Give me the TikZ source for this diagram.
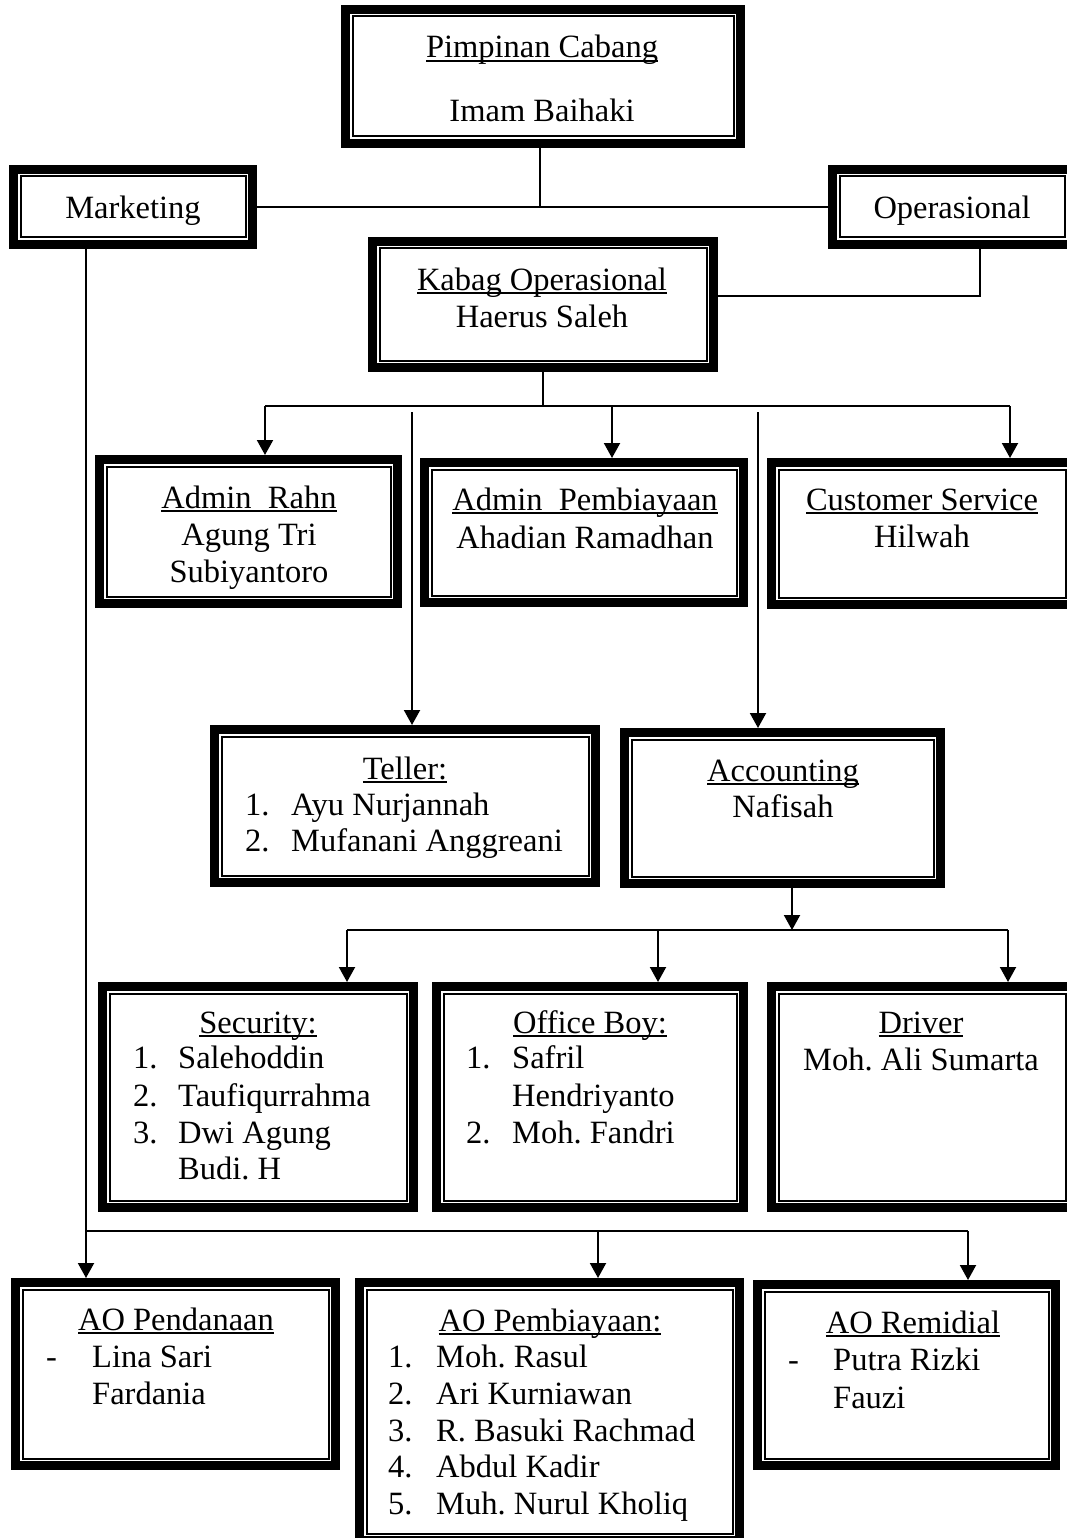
\documentclass[tikz,border=0pt]{standalone}
\usepackage{fontspec}
\setmainfont{Liberation Serif}
\usetikzlibrary{arrows.meta}
\newsavebox\ulbox
\newcommand\ulx[1]{\sbox\ulbox{#1}\rlap{\rule[-3.8pt]{\wd\ulbox}{1.6pt}}\usebox\ulbox}
\tikzset{
  obox/.style={rectangle, draw=black, line width=9pt, outer sep=4.5pt, inner sep=0pt, fill=white},
  inln/.style={line width=2pt},
  txt/.style={inner sep=0pt, font=\fontsize{32.5}{38}\selectfont\frenchspacing},
  ln/.style={line width=2pt},
  arr/.style={line width=2pt, -{Triangle[width=16pt,length=15pt]}},
}
\newcommand\obox[5]{%
  \node[obox, minimum width={#4-#2-9}, minimum height={#5-#3-9}] (#1) at ({(#2+#4)/2},{(#3+#5)/2}) {};
  \draw[inln] ([xshift=11.5pt,yshift=-11.5pt]#1.north west) rectangle ([xshift=-11.5pt,yshift=11.5pt]#1.south east);
}
\begin{document}
\begin{tikzpicture}[x=1pt,y=-1pt]
\useasboundingbox (0,0) rectangle (1067,1538);
\clip (0,0) rectangle (1067,1538);
\fill[white] (0,0) rectangle (1067,1538);

% ---------- boxes ----------
\obox{top}{341}{5}{745}{148}
\obox{mkt}{9}{165}{257}{249}
\obox{ops}{828}{165}{1076}{249}
\obox{kabag}{368}{237}{718}{372}
\obox{rahn}{95}{455}{402}{608}
\obox{pemb}{420}{458}{748}{607}
\obox{cs}{767}{458}{1077}{609}
\obox{teller}{210}{725}{600}{887}
\obox{acct}{620}{728}{945}{888}
\obox{sec}{98}{982}{418}{1212}
\obox{ob}{432}{982}{748}{1212}
\obox{drv}{767}{982}{1077}{1212}
\obox{aop}{11}{1278}{340}{1470}
\obox{aopb}{355}{1278}{744}{1545}
\obox{aor}{753}{1280}{1060}{1470}

% ---------- texts ----------
\node[txt, anchor=base] (t01) at (542,58) {\ulx{Pimpinan Cabang}};
\node[txt, anchor=base] (t02) at (542,122) {Imam Baihaki};
\node[txt, anchor=base] (t03) at (133,219) {Marketing};
\node[txt, anchor=base] (t04) at (952,219) {Operasional};
\node[txt, anchor=base] (t05) at (542,290) {\ulx{Kabag Operasional}};
\node[txt, anchor=base] (t06) at (542,327) {Haerus Saleh};

\node[txt, anchor=base] (t07) at (249,508) {\ulx{Admin\ \ Rahn}};
\node[txt, anchor=base] (t08) at (249,545) {Agung Tri};
\node[txt, anchor=base] (t09) at (249,582) {Subiyantoro};
\node[txt, anchor=base] (t10) at (585,510) {\ulx{Admin\ \ Pembiayaan}};
\node[txt, anchor=base] (t11) at (585,548) {Ahadian Ramadhan};
\node[txt, anchor=base] (t12) at (922,510) {\ulx{Customer Service}};
\node[txt, anchor=base] (t13) at (922,547) {Hilwah};

\node[txt, anchor=base] (t14) at (405,779) {\ulx{Teller:}};
\node[txt, anchor=base west] (t15) at (245,815) {1.};
\node[txt, anchor=base west] (t16) at (291,815) {Ayu Nurjannah};
\node[txt, anchor=base west] (t17) at (245,851) {2.};
\node[txt, anchor=base west] (t18) at (291,851) {Mufanani Anggreani};
\node[txt, anchor=base] (t19) at (783,781) {\ulx{Accounting}};
\node[txt, anchor=base] (t20) at (783,817) {Nafisah};

\node[txt, anchor=base] (t21) at (258,1033) {\ulx{Security:}};
\node[txt, anchor=base west] (t22) at (133,1068) {1.};
\node[txt, anchor=base west] (t23) at (178,1068) {Salehoddin};
\node[txt, anchor=base west] (t24) at (133,1106) {2.};
\node[txt, anchor=base west] (t25) at (178,1106) {Taufiqurrahma};
\node[txt, anchor=base west] (t26) at (133,1143) {3.};
\node[txt, anchor=base west] (t27) at (178,1143) {Dwi Agung};
\node[txt, anchor=base west] (t28) at (178,1179) {Budi. H};

\node[txt, anchor=base] (t29) at (590,1033) {\ulx{Office Boy:}};
\node[txt, anchor=base west] (t30) at (466,1068) {1.};
\node[txt, anchor=base west] (t31) at (512,1068) {Safril};
\node[txt, anchor=base west] (t32) at (512,1106) {Hendriyanto};
\node[txt, anchor=base west] (t33) at (466,1143) {2.};
\node[txt, anchor=base west] (t34) at (512,1143) {Moh. Fandri};

\node[txt, anchor=base] (t35) at (921,1033) {\ulx{Driver}};
\node[txt, anchor=base] (t36) at (921,1070) {Moh. Ali Sumarta};

\node[txt, anchor=base] (t37) at (176,1330) {\ulx{AO Pendanaan}};
\node[txt, anchor=base west] (t38) at (46,1367) {-};
\node[txt, anchor=base west] (t39) at (92,1367) {Lina Sari};
\node[txt, anchor=base west] (t40) at (92,1404) {Fardania};

\node[txt, anchor=base] (t41) at (550,1331) {\ulx{AO Pembiayaan:}};
\node[txt, anchor=base west] (t42) at (388,1367) {1.};
\node[txt, anchor=base west] (t43) at (436,1367) {Moh. Rasul};
\node[txt, anchor=base west] (t44) at (388,1404) {2.};
\node[txt, anchor=base west] (t45) at (436,1404) {Ari Kurniawan};
\node[txt, anchor=base west] (t46) at (388,1441) {3.};
\node[txt, anchor=base west] (t47) at (436,1441) {R. Basuki Rachmad};
\node[txt, anchor=base west] (t48) at (388,1477) {4.};
\node[txt, anchor=base west] (t49) at (436,1477) {Abdul Kadir};
\node[txt, anchor=base west] (t50) at (388,1514) {5.};
\node[txt, anchor=base west] (t51) at (436,1514) {Muh. Nurul Kholiq};

\node[txt, anchor=base] (t52) at (913,1333) {\ulx{AO Remidial}};
\node[txt, anchor=base west] (t53) at (788,1370) {-};
\node[txt, anchor=base west] (t54) at (833,1370) {Putra Rizki};
\node[txt, anchor=base west] (t55) at (833,1408) {Fauzi};

% ---------- connectors ----------
\draw[ln] ([xshift=-3pt]top.south) -- ([xshift=-3pt]top.south |- mkt.east);
\draw[ln] (mkt.east) -- (ops.west);
\draw[ln] ([xshift=28pt]ops.south) |- ([yshift=8.5pt]kabag.east);

\coordinate (hL) at (265,406);
\coordinate (hM) at (612,406);
\coordinate (hR) at (1010,406);
\draw[ln] (kabag.south) -- (kabag.south |- hL);
\draw[ln] (hL) -- (hR);
\draw[arr] (hL) -- (hL |- rahn.north);
\draw[arr] (hM) -- (hM |- pemb.north);
\draw[arr] (hR) -- (hR |- cs.north);

\coordinate (tT) at (412,412);
\coordinate (aT) at (758,412);
\draw[arr] (tT) -- (tT |- teller.north);
\draw[arr] (aT) -- (aT |- acct.north);

\coordinate (h2L) at (347,930);
\coordinate (h2M) at (658,930);
\coordinate (h2R) at (1008,930);
\draw[arr] ([xshift=9.5pt]acct.south) -- ([xshift=9.5pt]acct.south |- h2L);
\draw[ln] (h2L) -- (h2R);
\draw[arr] (h2L) -- (h2L |- sec.north);
\draw[arr] (h2M) -- (h2M |- ob.north);
\draw[arr] (h2R) -- (h2R |- drv.north);

\coordinate (mX) at ([xshift=-47pt]mkt.south);
\coordinate (h3L) at (mX |- 0,1231);
\coordinate (h3M) at (598,1231);
\coordinate (h3R) at (968,1231);
\draw[arr] (mX) -- (mX |- aop.north);
\draw[ln] (h3L) -- (h3R);
\draw[arr] (h3M) -- (h3M |- aopb.north);
\draw[arr] (h3R) -- (h3R |- aor.north);
\end{tikzpicture}
\end{document}
